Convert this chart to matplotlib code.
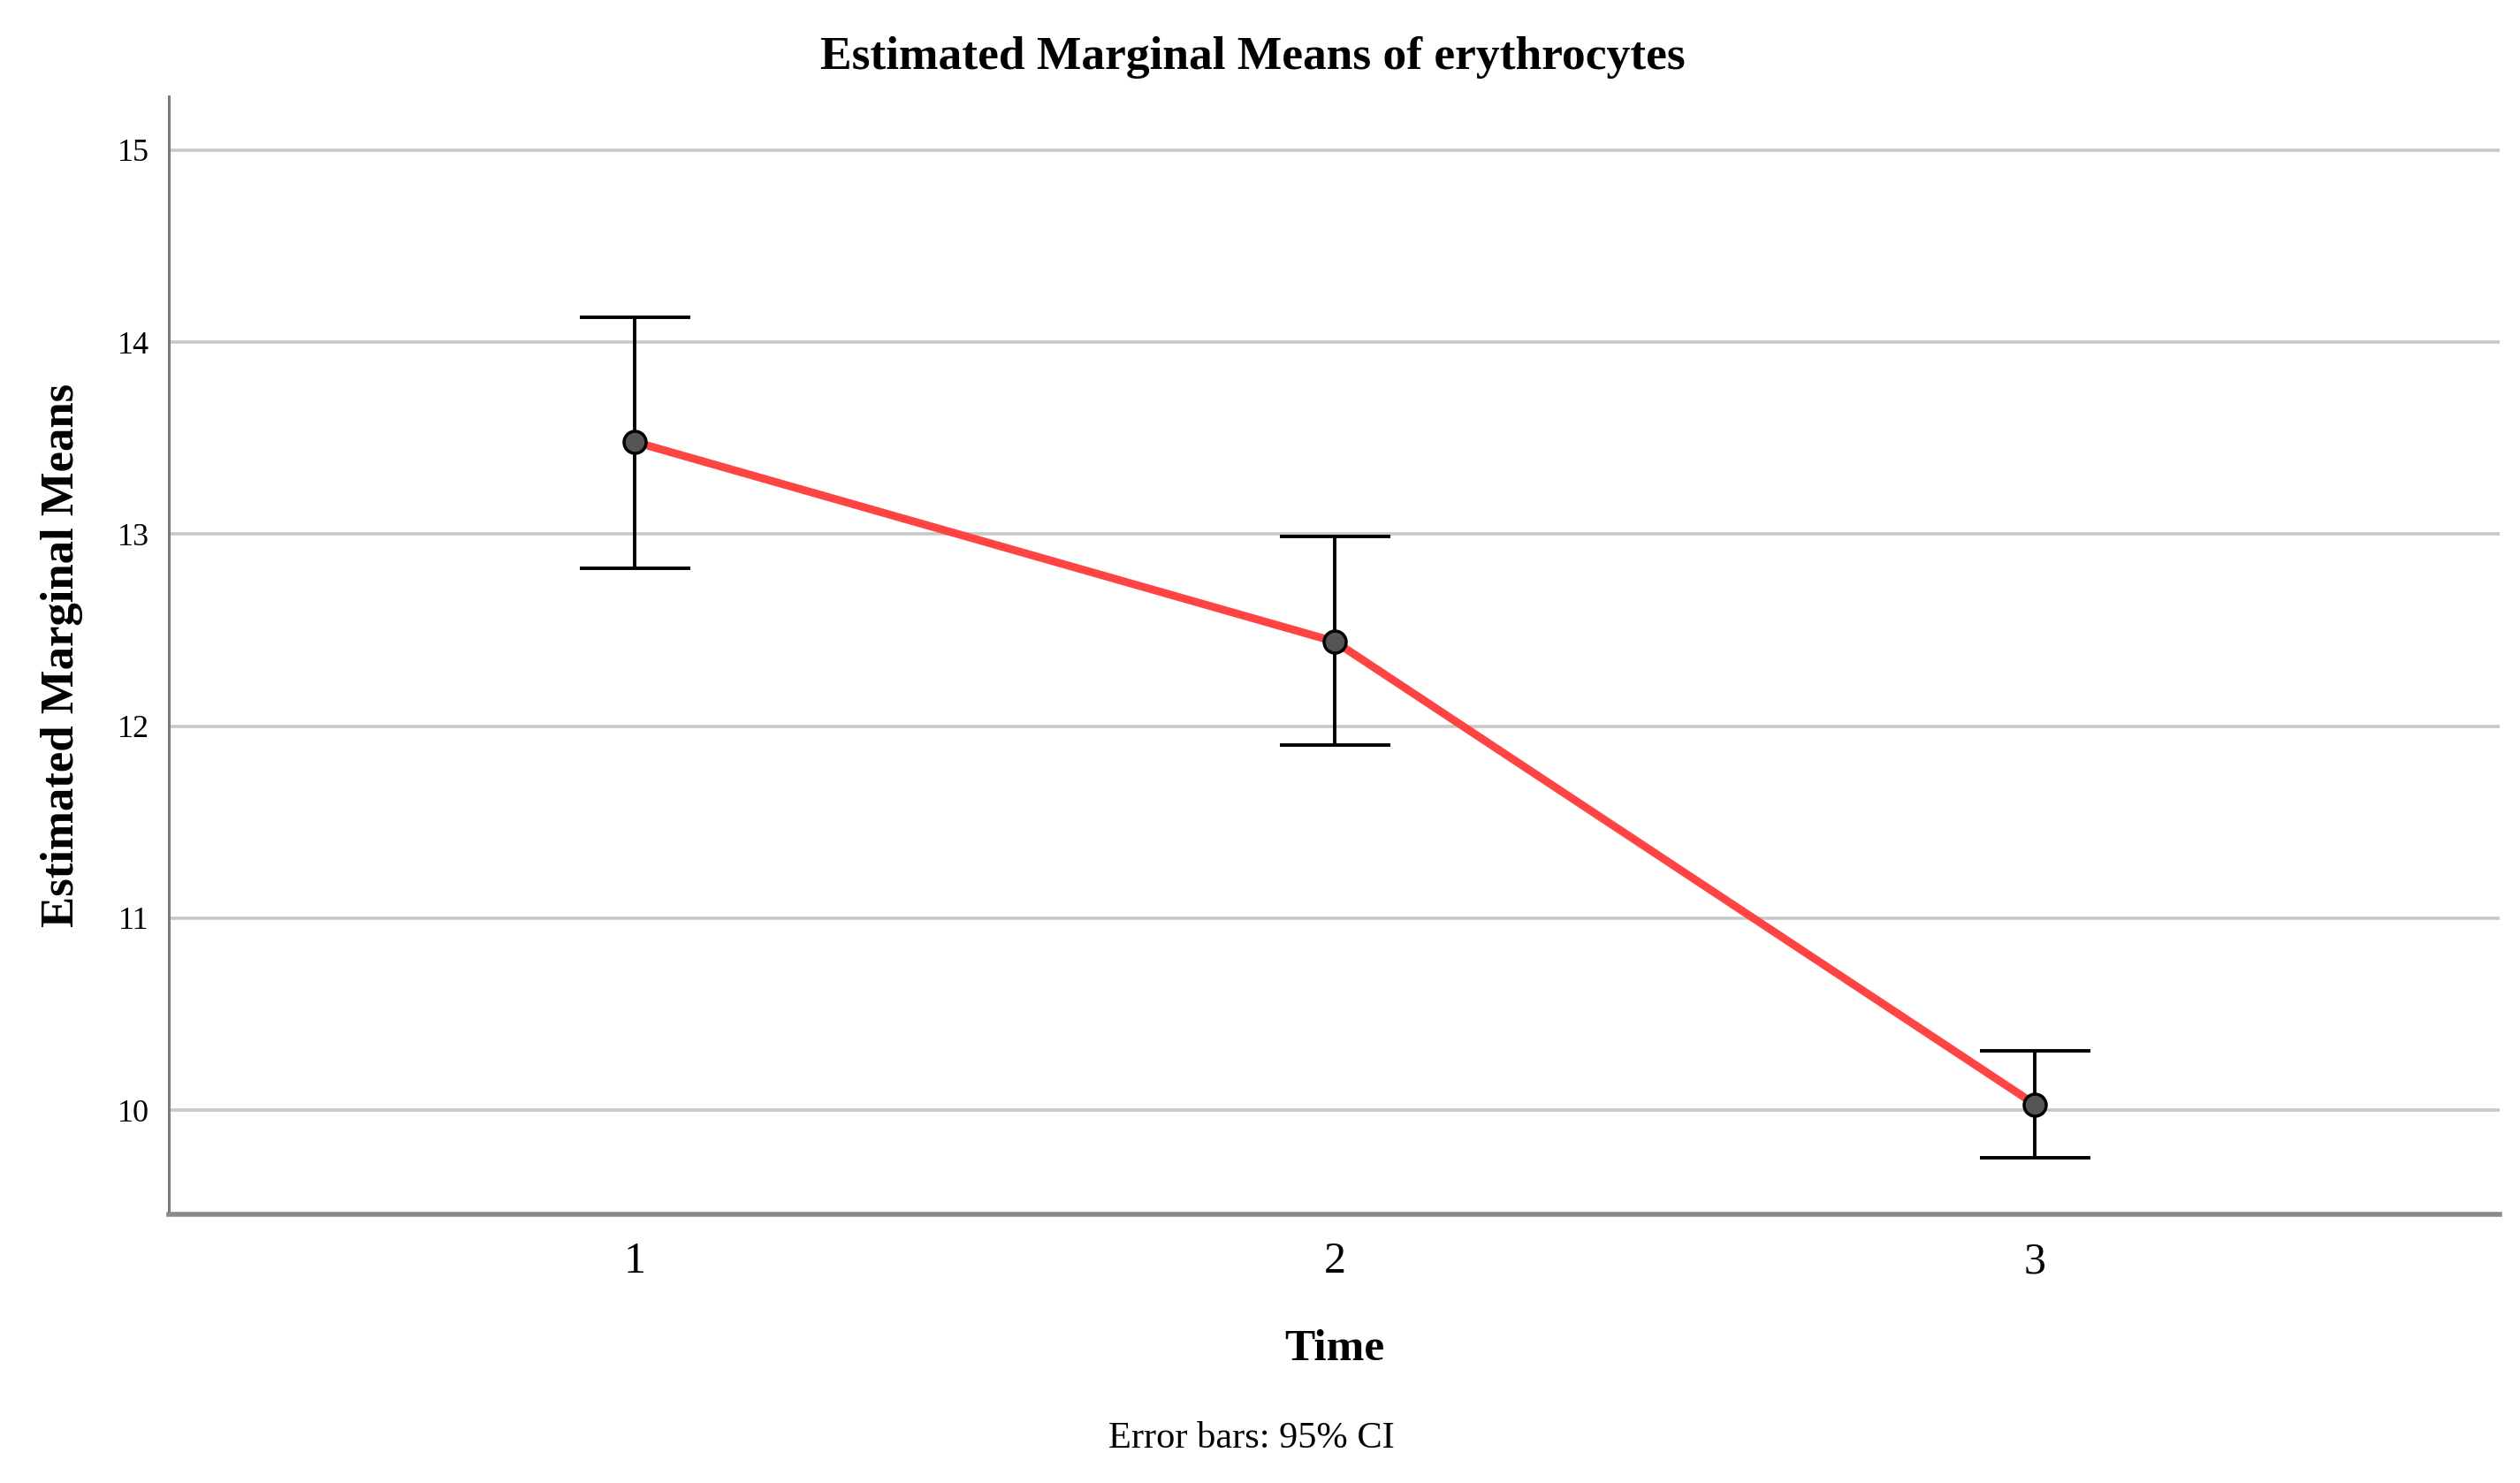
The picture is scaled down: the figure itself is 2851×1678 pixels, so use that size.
import matplotlib
matplotlib.use("Agg")
import matplotlib.pyplot as plt

# data
time = [1, 2, 3]
means = [13.48, 12.44, 10.03]
ci_low = [12.82, 11.90, 9.75]
ci_high = [14.13, 12.99, 10.31]

serif = ["Liberation Serif", "DejaVu Serif"]
plt.rcParams['font.family'] = serif

fig = plt.figure(figsize=(28.51, 16.78), dpi=100)
ax = fig.add_axes([0.067, 0.181, 0.925, 0.754])

err_lo = [m - l for m, l in zip(means, ci_low)]
err_hi = [h - m for m, h in zip(means, ci_high)]

ax.errorbar(time, means, yerr=[err_lo, err_hi], fmt="none", ecolor="black",
            elinewidth=2.8, capsize=45, capthick=2.8, zorder=3)
ax.plot(time, means, color="#ff4444", linewidth=6.5, zorder=4)
ax.plot(time, means, linestyle="none", marker="o", markersize=18,
        markerfacecolor="#555555", markeredgecolor="black", markeredgewidth=2.5,
        zorder=5)

ax.set_xlim(0.334, 3.664)
ax.set_ylim(9.456, 15.28)
ax.set_xticks(time)
ax.set_yticks([10, 11, 12, 13, 14, 15])
ax.tick_params(axis="x", length=0, labelsize=36, pad=22)
ax.tick_params(axis="y", length=0, labelsize=26, pad=16)

ax.yaxis.grid(True, color="#c8c8c8", linewidth=2.6)
ax.set_axisbelow(True)

for s in ["top", "right"]:
    ax.spines[s].set_visible(False)
ax.spines["left"].set_color("#7a7a7a")
ax.spines["left"].set_linewidth(2.2)
ax.spines["bottom"].set_color("#8a8a8a")
ax.spines["bottom"].set_linewidth(4)

fig.text(0.497, 0.961, "Estimated Marginal Means of erythrocytes", fontsize=38.5,
         fontweight="bold", ha="center", va="center")
ax.set_ylabel("Estimated Marginal Means", fontsize=38, fontweight="bold", labelpad=28)
ax.set_xlabel("Time", fontsize=37, fontweight="bold", labelpad=38)

fig.text(0.4965, 0.03, "Error bars: 95% CI", ha="center", va="center", fontsize=30.5)

fig.savefig("out.png", dpi=100)
